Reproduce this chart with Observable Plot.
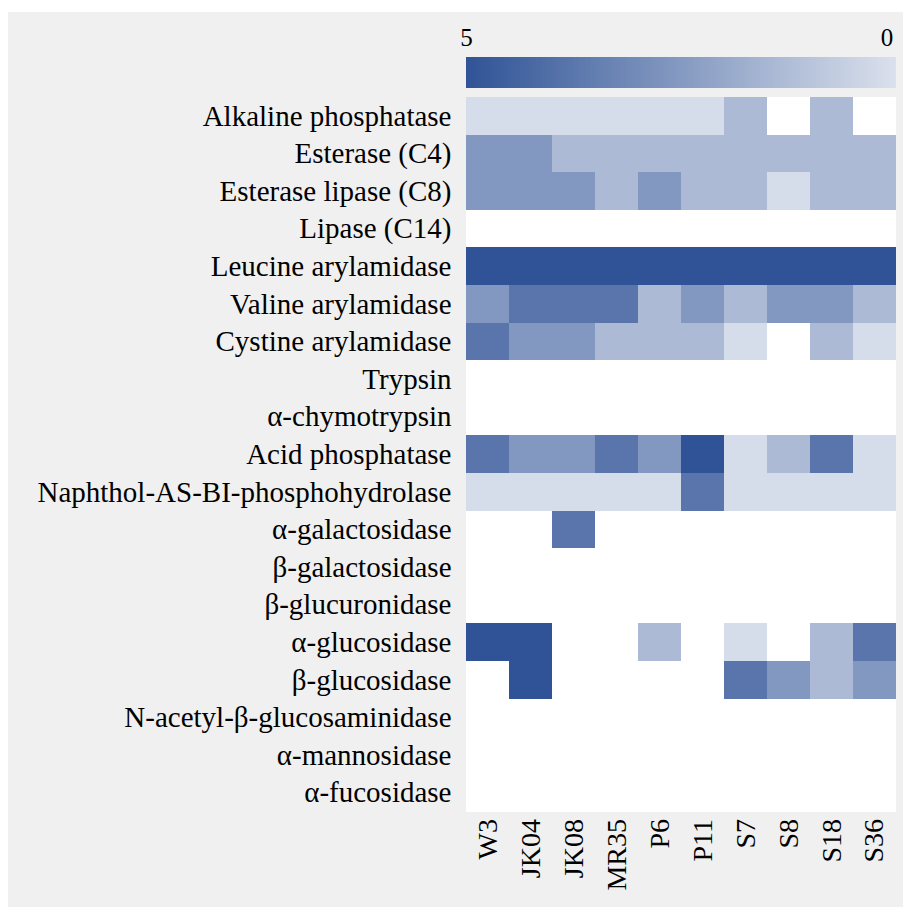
<!DOCTYPE html>
<html>
<head>
<meta charset="utf-8">
<script src="https://cdn.jsdelivr.net/npm/d3@7"></script>
<script src="https://cdn.jsdelivr.net/npm/@observablehq/plot@0.6"></script>
<style>
  html, body { margin: 0; padding: 0; background: #ffffff; }
  #panel {
    position: absolute; left: 8px; top: 12px; width: 895px; height: 895px;
    background: #f0f0f0; overflow: hidden;
  }
  #panel svg { display: block; }
</style>
</head>
<body>
<div id="panel"></div>
<script>
const strains = ["W3", "JK04", "JK08", "MR35", "P6", "P11", "S7", "S8", "S18", "S36"];
const enzymes = [
  "Alkaline phosphatase",
  "Esterase (C4)",
  "Esterase lipase (C8)",
  "Lipase (C14)",
  "Leucine arylamidase",
  "Valine arylamidase",
  "Cystine arylamidase",
  "Trypsin",
  "α-chymotrypsin",
  "Acid phosphatase",
  "Naphthol-AS-BI-phosphohydrolase",
  "α-galactosidase",
  "β-galactosidase",
  "β-glucuronidase",
  "α-glucosidase",
  "β-glucosidase",
  "N-acetyl-β-glucosaminidase",
  "α-mannosidase",
  "α-fucosidase"
];
// one row per enzyme, columns in the order of `strains`
const activity = [
  [1, 1, 1, 1, 1, 1, 2, 0, 2, 0],
  [3, 3, 2, 2, 2, 2, 2, 2, 2, 2],
  [3, 3, 3, 2, 3, 2, 2, 1, 2, 2],
  [0, 0, 0, 0, 0, 0, 0, 0, 0, 0],
  [5, 5, 5, 5, 5, 5, 5, 5, 5, 5],
  [3, 4, 4, 4, 2, 3, 2, 3, 3, 2],
  [4, 3, 3, 2, 2, 2, 1, 0, 2, 1],
  [0, 0, 0, 0, 0, 0, 0, 0, 0, 0],
  [0, 0, 0, 0, 0, 0, 0, 0, 0, 0],
  [4, 3, 3, 4, 3, 5, 1, 2, 4, 1],
  [1, 1, 1, 1, 1, 4, 1, 1, 1, 1],
  [0, 0, 4, 0, 0, 0, 0, 0, 0, 0],
  [0, 0, 0, 0, 0, 0, 0, 0, 0, 0],
  [0, 0, 0, 0, 0, 0, 0, 0, 0, 0],
  [5, 5, 0, 0, 2, 0, 1, 0, 2, 4],
  [0, 5, 0, 0, 0, 0, 4, 3, 2, 3],
  [0, 0, 0, 0, 0, 0, 0, 0, 0, 0],
  [0, 0, 0, 0, 0, 0, 0, 0, 0, 0],
  [0, 0, 0, 0, 0, 0, 0, 0, 0, 0]
];
const legendMax = [5];
const legendMin = [0];

const table = [];
enzymes.forEach((e, i) => strains.forEach((s, j) => table.push({enzyme: e, strain: s, value: activity[i][j]})));

const font = "'Liberation Serif', 'Times New Roman', serif";
const panel = document.getElementById("panel");

// Legend (colour ramp, 5 on the left, 0 on the right)
const step = 0.02;
const ramp = d3.range(0, 5, step);
const legend = Plot.plot({
  width: 895,
  height: 85,
  marginLeft: 458,
  marginRight: 7.5,
  marginTop: 45,
  marginBottom: 9,
  style: {background: "transparent", fontFamily: font, fontSize: "25px", color: "black"},
  x: {domain: [5, 0], axis: null, round: false},
  color: {type: "linear", domain: [0, 5], range: ["#dae0ec", "#2f5396"]},
  marks: [
    Plot.barX(ramp, {x1: d => d, x2: d => d + step, fill: d => d, shapeRendering: "crispEdges"}),
    Plot.text(legendMax, {x: d => d, frameAnchor: "top", lineAnchor: "bottom", dy: -11.5, text: d => String(d), fill: "black", fontSize: 25}),
    Plot.text(legendMin, {x: d => d, frameAnchor: "top", lineAnchor: "bottom", dy: -11.5, dx: -9, text: d => String(d), fill: "black", fontSize: 25})
  ]
});
panel.appendChild(legend);

// Heatmap
const chart = Plot.plot({
  width: 895,
  height: 810,
  marginLeft: 458,
  marginRight: 7.5,
  marginTop: 0,
  marginBottom: 95.5,
  style: {background: "transparent", fontFamily: font, fontSize: "28px", color: "black"},
  x: {domain: strains, padding: 0, round: false, label: null},
  y: {domain: enzymes, padding: 0, round: false, label: null},
  color: {type: "linear", domain: [0, 5], range: ["#ffffff", "#2f5396"]},
  marks: [
    Plot.frame({fill: "white", stroke: null}),
    Plot.cell(table, {x: "strain", y: "enzyme", fill: "value", inset: 0, shapeRendering: "crispEdges"}),
    Plot.axisX({tickSize: 0, tickPadding: 7, tickRotate: -90, fontSize: 28, label: null, fill: "black"}),
    Plot.axisY({tickSize: 0, tickPadding: 15, fontSize: 29, label: null, fill: "black"})
  ]
});
panel.appendChild(chart);
</script>
</body>
</html>
